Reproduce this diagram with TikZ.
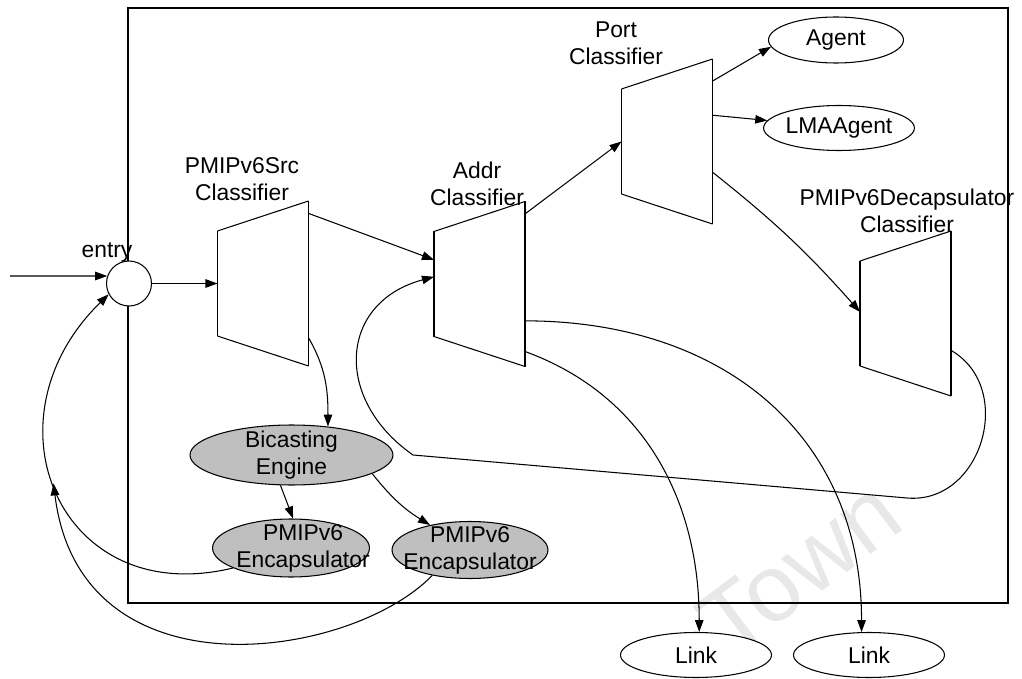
\documentclass[tikz,border=0pt]{standalone}
\usepackage{fontspec}
\setmainfont{Liberation Sans}
\usetikzlibrary{positioning, shapes.geometric, arrows.meta}
\tikzset{
    classifier/.style={
        rectangle,
        minimum width=1.8cm,
        minimum height=3.28cm,
        inner sep=0,
        % 画梯形的四条边
        append after command={
            \pgfextra{\let\clsnode\tikzlastnode}
            (\clsnode.north east) edge (\clsnode.south east)
            (\clsnode.south east) edge ([yshift=0.6cm]\clsnode.south west)
            ([yshift=0.6cm]\clsnode.south west) edge ([yshift=-0.6cm]\clsnode.north west)
            ([yshift=-0.6cm]\clsnode.north west) edge (\clsnode.north east)
        }
    },
    plainnode/.style={
        ellipse,
        draw,
        fill=white,
        inner sep=0
    },
    graynode/.style={
        ellipse,
        draw,
        fill=black!25, % 灰色填充
        inner sep=0
    },
    caption/.style={
        align=center,
        inner sep=0
    },
    flow/.style={
        -{Triangle[length=0.24cm, width=0.17cm]}
    }
}

\begin{document}
\begin{tikzpicture}[
                x=0.02cm,
                y=-0.02cm,
                line width=0.6pt,
                font=\fontsize{13}{15.4}\selectfont
            ]
            \useasboundingbox (0,0) rectangle (1022,679);
            % 水印
            \node[text=black!9, rotate=37, font=\fontsize{54}{54}\selectfont] (mark) at (800,568) {Town};
            % 外框
            \draw (128,8) rectangle (1008,603);

            % 分类器
            \node[circle, draw, fill=white, minimum size=0.9cm, inner sep=0] (entry) at (129,283.5) {};
            \node[caption] (entrytext) at (107,252) {entry};
            \node[classifier] (src) at (263,283.5) {};
            \node[caption] (srctext) at (242,179) {PMIPv6Src\\Classifier};
            \node[classifier] (addr) at (479.5,284) {};
            \node[caption] (addrtext) at (477,184) {Addr\\Classifier};
            \node[classifier] (port) at (667,141.5) {};
            \node[caption] (porttext) at (616,43) {Port\\Classifier};
            \node[classifier] (decap) at (905.5,313.5) {};
            \node[caption] (decaptext) at (907,211) {PMIPv6Decapsulator\\Classifier};

            % 椭圆节点
            \node[plainnode, minimum width=2.7cm, minimum height=0.92cm] (agent) at (836,40) {Agent};
            \node[plainnode, minimum width=2.72cm, minimum height=0.9cm] (lma) at (839,128) {LMAAgent};
            \node[graynode, minimum width=4.06cm, minimum height=1.2cm,
                  label={[align=center]center:Bicasting\\Engine}] (bicast) at (291.5,455) {};
            \node[graynode, minimum width=3.14cm, minimum height=1.16cm,
                  label={[align=center, xshift=0.24cm]center:PMIPv6\\Encapsulator}] (encap1) at (291,548) {};
            \node[graynode, minimum width=3.12cm, minimum height=1.14cm,
                  label={[align=center]center:PMIPv6\\Encapsulator}] (encap2) at (470,550) {};
            \node[plainnode, minimum width=3.02cm, minimum height=0.9cm] (link1) at (696,655) {Link};
            \node[plainnode, minimum width=3.02cm, minimum height=0.9cm] (link2) at (869,655) {Link};

            \coordinate (start) at (10,276);
            \coordinate (turn1) at (907,498);
            \coordinate (turn2) at (413,455);

            % 连线
            \draw[flow] (start) -- (entry.161);
            \draw[flow] (entry) -- (src);
            \draw[flow] (src.57) -- (addr.152);
            \draw[flow] (addr.57) -- (port.west);
            \draw[flow] (port.53) -- (agent.186);
            \draw[flow] (port.30) -- (lma.174);
            \draw[flow] (port.-34) to[bend left=5] (decap.178);
            \draw[flow] (decap.-39) to[out=-30, in=-5, looseness=1.25] (turn1)
                -- (turn2) to[out=145, in=195, looseness=1.4] (addr.171);
            \draw[flow] (addr.-39) to[out=0, in=90, looseness=1.1] (link2.108);
            \draw[flow] (addr.-56) to[out=-20, in=90] (link1.82);
            \draw[flow] (src.-50) to[out=-60, in=90] (bicast.38);
            \draw[flow] (bicast.-110) -- (encap1.86);
            \draw[flow] (bicast.-13) to[bend right=10] (encap2.148);
            \draw[flow] (encap1.199) .. controls (60,610) and (-20,420) ..
                coordinate[pos=0.53] (merge) (entry.208);
            \draw[flow] (encap2.214) .. controls (350,660) and (80,700) .. (merge);
\end{tikzpicture}
\end{document}
